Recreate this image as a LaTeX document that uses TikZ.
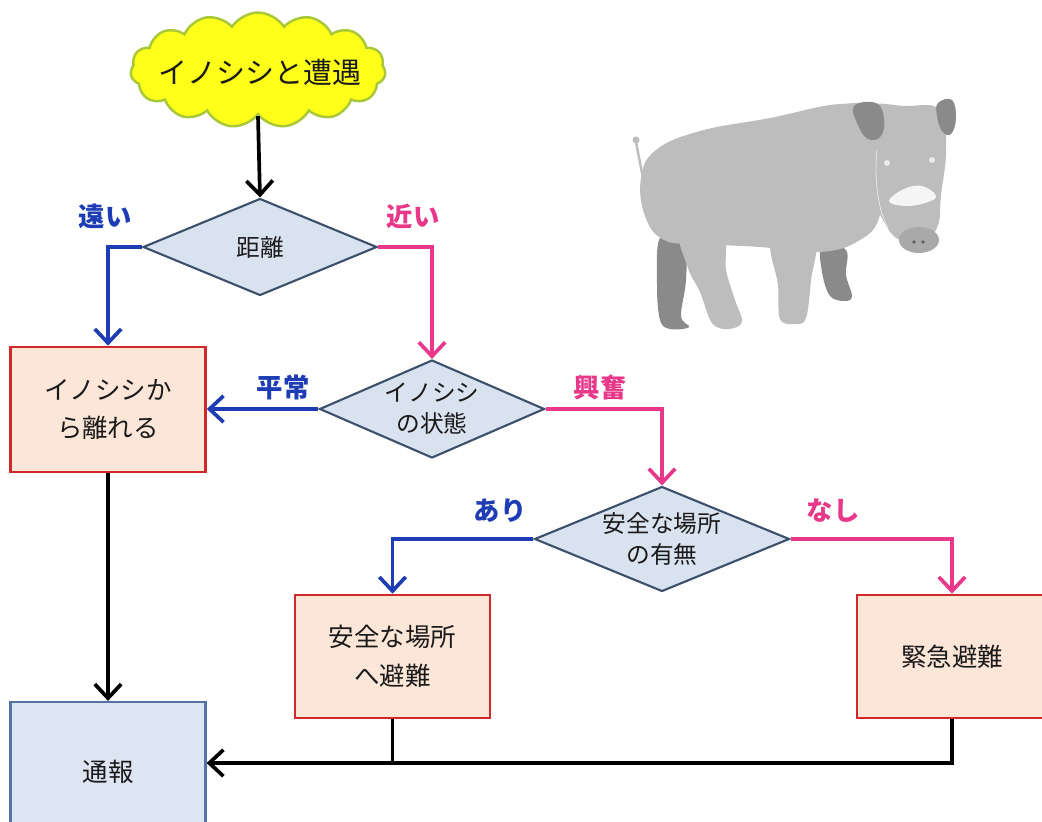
\documentclass[tikz,border=0pt]{standalone}
\usepackage{fontspec}
\setmainfont{Noto Sans CJK JP}
\usetikzlibrary{shapes.geometric,shapes.symbols,arrows.meta}

\definecolor{diafill}{HTML}{D9E2EF}
\definecolor{diadraw}{HTML}{3C4F6B}
\definecolor{actfill}{HTML}{FCE6D8}
\definecolor{actdraw}{HTML}{D0282B}
\definecolor{repfill}{HTML}{DCE5F1}
\definecolor{repdraw}{HTML}{5274A4}
\definecolor{cloudfill}{HTML}{FFFF1A}
\definecolor{clouddraw}{HTML}{A8C838}
\definecolor{yesblue}{HTML}{1E3CB4}
\definecolor{nopink}{HTML}{E8388A}
\definecolor{txt}{HTML}{1A1A1A}
\definecolor{boarlight}{HTML}{BDBDBD}
\definecolor{boardark}{HTML}{8A8A8A}
\definecolor{boarsnout}{HTML}{A9A9A9}

\tikzset{
  dia/.style={diamond, draw=diadraw, fill=diafill, line width=1.2pt, inner sep=0pt},
  diatext/.style={text=txt, font=\fontsize{13.5pt}{17.5pt}\selectfont, align=center, inner sep=0pt},
  actbox/.style={draw=actdraw, fill=actfill, line width=1.5pt, text=txt,
    font=\fontsize{14.5pt}{22pt}\selectfont, align=center},
  repbox/.style={draw=repdraw, fill=repfill, line width=1.3pt, text=txt,
    font=\fontsize{14.5pt}{22pt}\selectfont, align=center},
  lbl/.style={font=\bfseries\fontsize{15pt}{17pt}\selectfont, inner sep=0pt},
  flow/.style={line width=2.1pt, -{Straight Barb[length=8pt,width=15pt]}},
  blk/.style={flow, draw=black},
  blu/.style={flow, draw=yesblue},
  pnk/.style={flow, draw=nopink},
  plain/.style={line width=2.1pt, draw=black},
}

\begin{document}
\begin{tikzpicture}[x=0.02cm, y=-0.02cm]
\useasboundingbox (0,0) rectangle (1042,822);

% start cloud
\node[cloud, cloud puffs=15, cloud puff arc=115, cloud ignores aspect,
      minimum width=5.1cm, minimum height=2.3cm, inner sep=0pt,
      draw=clouddraw, fill=cloudfill, line width=1.4pt] (start) at (258,70) {};
\node[text=txt, font=\fontsize{16.5pt}{18pt}\selectfont, inner sep=0pt] (startt) at (260,72) {イノシシと遭遇};

% decisions
\node[dia, minimum width=4.68cm, minimum height=1.94cm] (d1) at (260,247) {};
\node[diatext] (d1t) at (d1) {距離};
\node[dia, minimum width=4.5cm, minimum height=1.96cm] (d2) at (432,409) {};
\node[diatext] (d2t) at (d2) {イノシシ\\の状態};
\node[dia, minimum width=5.1cm, minimum height=2.1cm] (d3) at (662,539) {};
\node[diatext] (d3t) at (d3) {安全な場所\\の有無};

% actions
\node[actbox, minimum width=3.9cm, minimum height=2.5cm] (b1) at (108,409.5) {イノシシか\\ら離れる};
\node[actbox, minimum width=3.9cm, minimum height=2.46cm] (b2) at (392.5,656.5) {安全な場所\\へ避難};
\node[actbox, minimum width=3.8cm, minimum height=2.46cm] (b3) at (952,656.5) {緊急避難};
\node[repbox, minimum width=3.9cm, minimum height=2.8cm] (b4) at (108,772) {通報};

% branch labels
\node[lbl, text=yesblue] (l1) at (105,216) {遠い};
\node[lbl, text=nopink] (l2) at (413,216) {近い};
\node[lbl, text=yesblue] (l3) at (283,387) {平常};
\node[lbl, text=nopink] (l4) at (600,387) {興奮};
\node[lbl, text=yesblue] (l5) at (500,511) {あり};
\node[lbl, text=nopink] (l6) at (833,511) {なし};

% connectors
\draw[blk] (start.south) -- (d1.north);
\draw[blu] (d1.west) -| (b1.north);
\draw[pnk] (d1.east) -| (d2.north);
\draw[blu] (d2.west) -- (d2.west -| b1.east);
\draw[pnk] (d2.east) -| (d3.north);
\draw[blu] (d3.west) -| (b2.north);
\draw[pnk] (d3.east) -| (b3.north);
\draw[blk] (b1.south) -- (b4.north);
\coordinate (join) at (392.5,763);
\draw[blk] (b3.south) |- (b4.east |- join);
\draw[plain] (b2.south) -- (join);

% wild boar
\begin{scope}
  % far legs
  \fill[boardark] plot[smooth cycle, tension=0.6] coordinates {(660,238) (684,244) (686,280) (681,316) (689,327) (670,329) (660,320) (657,285)};
  \fill[boardark] plot[smooth cycle, tension=0.6] coordinates {(822,246) (846,250) (846,275) (852,296) (845,301) (830,296) (822,272)};
  % body
  \fill[boarlight] plot[smooth cycle, tension=0.7] coordinates {(641,178) (656,150) (700,131) (770,118) (840,104) (876,112) (882,165) (880,215) (860,240) (820,252) (760,247) (700,244) (664,240) (645,216)};
  % near legs
  \fill[boarlight] plot[smooth cycle, tension=0.6] coordinates {(680,230) (722,236) (726,270) (735,300) (742,322) (728,329) (712,323) (700,292) (688,268)};
  \fill[boarlight] plot[smooth cycle, tension=0.6] coordinates {(772,240) (814,240) (811,280) (806,318) (795,324) (780,319) (778,285)};
  % tail
  \draw[boarlight, line width=1.4pt] (643,178) -- (636,142);
  \fill[boarlight] (636,140) circle (3.5);
  % head
  \fill[boarlight] plot[smooth cycle, tension=0.7] coordinates {(864,108) (905,106) (940,110) (946,150) (941,195) (938,225) (925,240) (900,240) (884,222) (871,190) (862,150)};
  \fill[boardark] plot[smooth cycle, tension=0.7] coordinates {(854,106) (876,103) (884,118) (881,136) (868,139) (858,125)};
  \fill[boardark] plot[smooth cycle, tension=0.7] coordinates {(938,103) (952,100) (956,118) (951,134) (942,131) (937,116)};
  \fill[white!85!boarlight] plot[smooth cycle, tension=0.7] coordinates {(889,201) (904,189) (922,186) (936,196) (925,203) (905,206)};
  \fill[white!70!boarlight] (887,163) circle (3) (932,160) circle (3);
  \fill[boarsnout] (919,240) ellipse (20 and 13);
  \fill[boardark!70!black] (914,242) circle (1.8) (923,242) circle (1.8);
  \draw[white!60!boarlight, line width=0.5pt] (877,150) .. controls (874,180) and (878,210) .. (888,228);
\end{scope}
\end{tikzpicture}
\end{document}
